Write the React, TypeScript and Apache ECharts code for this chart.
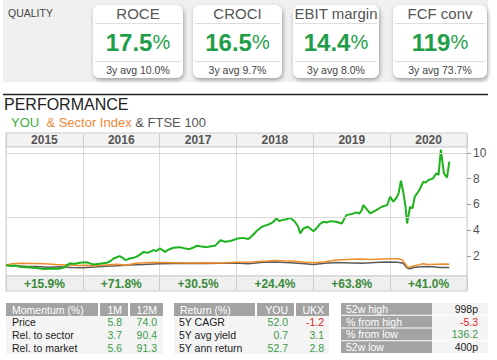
import React, { useEffect, useRef } from 'react';
import * as echarts from 'echarts';

const FONT = '"Liberation Sans", Arial, Helvetica, sans-serif';

// ---- Quality cards ----
const qualityTitles = ['ROCE', 'CROCI', 'EBIT margin', 'FCF conv'];
const qualityValues = ['17.5', '16.5', '14.4', '119'];
const qualityAvg = ['10.0%', '9.7%', '8.0%', '73.7%'];

// ---- Performance chart ----
const years = ['2015', '2016', '2017', '2018', '2019', '2020'];
const yearReturns = ['+15.9%', '+71.8%', '+30.5%', '+24.4%', '+63.8%', '+41.0%'];
const yTicks = [2, 4, 6, 8, 10];
const gridValues = [5, 10];

const youSeries: number[][] = [
  [2015.0, 1.28], [2015.06, 1.22], [2015.12, 1.25], [2015.18, 1.15], [2015.26, 1.12], [2015.36, 1.07],
  [2015.42, 1.03], [2015.49, 0.97], [2015.55, 1.0], [2015.62, 1.02], [2015.68, 0.99], [2015.75, 1.07],
  [2015.8, 1.3], [2015.83, 1.41], [2015.9, 1.38], [2015.96, 1.46], [2016.05, 1.5], [2016.1, 1.4],
  [2016.14, 1.33], [2016.22, 1.38], [2016.31, 1.46], [2016.36, 1.6], [2016.4, 1.8], [2016.48, 1.98],
  [2016.52, 1.85], [2016.55, 1.67], [2016.6, 1.78], [2016.66, 1.85], [2016.72, 2.0], [2016.79, 2.31],
  [2016.85, 2.25], [2016.92, 2.45], [2016.96, 2.38], [2017.0, 2.58], [2017.04, 2.45], [2017.07, 2.31],
  [2017.12, 2.5], [2017.18, 2.63], [2017.26, 2.68], [2017.32, 2.6], [2017.39, 2.52], [2017.44, 2.65],
  [2017.48, 2.78], [2017.55, 2.72], [2017.61, 2.68], [2017.67, 2.75], [2017.72, 2.78], [2017.79, 3.22],
  [2017.85, 3.1], [2017.92, 3.16], [2017.97, 3.25], [2018.02, 3.36], [2018.09, 3.4], [2018.15, 3.3],
  [2018.2, 3.55], [2018.26, 3.92], [2018.33, 4.26], [2018.39, 4.39], [2018.44, 4.5], [2018.48, 4.65],
  [2018.52, 4.91], [2018.56, 4.7], [2018.59, 4.78], [2018.65, 4.85], [2018.7, 4.96], [2018.76, 4.65],
  [2018.8, 4.3], [2018.83, 3.75], [2018.87, 4.13], [2018.93, 4.26], [2019.0, 3.92], [2019.04, 4.13],
  [2019.09, 4.5], [2019.13, 4.65], [2019.18, 4.6], [2019.22, 4.7], [2019.3, 4.65], [2019.37, 4.52],
  [2019.43, 5.17], [2019.5, 5.25], [2019.56, 5.38], [2019.6, 5.3], [2019.63, 5.56], [2019.65, 5.95],
  [2019.7, 5.6], [2019.74, 5.3], [2019.82, 5.56], [2019.89, 5.82], [2019.96, 5.95], [2020.0, 6.6],
  [2020.04, 6.22], [2020.08, 6.5], [2020.11, 6.86], [2020.14, 7.84], [2020.17, 6.99], [2020.2, 5.8],
  [2020.22, 4.52], [2020.26, 5.82], [2020.29, 5.69], [2020.32, 6.6], [2020.38, 7.12], [2020.43, 7.76],
  [2020.46, 7.7], [2020.5, 7.9], [2020.56, 8.03], [2020.6, 8.42], [2020.63, 8.3], [2020.66, 10.26],
  [2020.7, 8.42], [2020.74, 8.08], [2020.77, 9.33],
];

const sectorSeries: number[][] = [
  [2015.0, 1.28], [2015.08, 1.38], [2015.2, 1.42], [2015.35, 1.4], [2015.5, 1.38], [2015.65, 1.33],
  [2015.8, 1.3], [2015.95, 1.25], [2016.05, 1.28], [2016.15, 1.22], [2016.3, 1.3], [2016.45, 1.35],
  [2016.55, 1.28], [2016.7, 1.42], [2016.85, 1.48], [2017.0, 1.48], [2017.2, 1.47], [2017.4, 1.45],
  [2017.6, 1.47], [2017.8, 1.44], [2018.0, 1.5], [2018.2, 1.52], [2018.4, 1.6], [2018.5, 1.65],
  [2018.6, 1.62], [2018.75, 1.58], [2018.9, 1.5], [2019.0, 1.46], [2019.15, 1.55], [2019.3, 1.68],
  [2019.45, 1.72], [2019.6, 1.75], [2019.75, 1.72], [2019.9, 1.76], [2020.0, 1.78], [2020.1, 1.77],
  [2020.15, 1.72], [2020.2, 1.35], [2020.23, 1.1], [2020.28, 1.18], [2020.35, 1.28], [2020.43, 1.38],
  [2020.5, 1.33], [2020.6, 1.35], [2020.7, 1.36], [2020.77, 1.35],
];

const ftseSeries: number[][] = [
  [2015.0, 1.28], [2015.1, 1.24], [2015.25, 1.2], [2015.4, 1.18], [2015.55, 1.12], [2015.7, 1.15],
  [2015.85, 1.1], [2016.0, 1.08], [2016.1, 1.12], [2016.3, 1.2], [2016.45, 1.24], [2016.6, 1.3],
  [2016.8, 1.32], [2017.0, 1.38], [2017.2, 1.41], [2017.4, 1.42], [2017.6, 1.4], [2017.8, 1.42],
  [2018.0, 1.45], [2018.15, 1.38], [2018.35, 1.5], [2018.5, 1.52], [2018.7, 1.47], [2018.85, 1.4],
  [2019.0, 1.33], [2019.15, 1.42], [2019.3, 1.48], [2019.5, 1.45], [2019.65, 1.43], [2019.8, 1.48],
  [2019.95, 1.53], [2020.1, 1.5], [2020.17, 1.42], [2020.22, 1.05], [2020.26, 1.0], [2020.32, 1.12],
  [2020.45, 1.18], [2020.55, 1.15], [2020.65, 1.1], [2020.77, 1.1],
];

// ---- Tables ----
const momentumRows = ['Price', 'Rel. to sector', 'Rel. to market'];
const momentum1M = ['5.8', '3.7', '5.6'];
const momentum12M = ['74.0', '90.4', '91.3'];
const returnRows = ['5Y CAGR', '5Y avg yield', '5Y ann return'];
const returnYou = ['52.0', '0.7', '52.7'];
const returnUkx = ['-1.2', '3.1', '2.8'];
const rangeLabels = ['52w high', '% from high', '% from low', '52w low'];
const rangeValues = ['998p', '-5.3', '136.2', '400p'];

const GREEN = '#3a9a4a';
const RED = '#e02424';
const valColor = (v: string) => (v.endsWith('p') ? '#222' : v.startsWith('-') ? RED : GREEN);

function txt(text: string, x: number, y: number, o: any = {}) {
  return {
    type: 'text',
    silent: true,
    z: 20,
    style: {
      text,
      x,
      y,
      fill: o.fill ?? '#222',
      font: `${o.weight ?? 'normal'} ${o.size ?? 11}px ${FONT}`,
      align: o.align ?? 'left',
      verticalAlign: 'middle',
    },
  };
}
function rect(x: number, y: number, w: number, h: number, fill: string, extra: any = {}) {
  return { type: 'rect', silent: true, z: extra.z ?? 5, shape: { x, y, width: w, height: h, r: extra.r ?? 0 }, style: { fill, ...(extra.style || {}) } };
}
function hline(x1: number, x2: number, y: number, stroke: string, w = 1) {
  return { type: 'line', silent: true, z: 8, shape: { x1, y1: y, x2, y2: y }, style: { stroke, lineWidth: w } };
}

function buildGraphic() {
  const g: any[] = [];
  // Quality panel
  g.push(rect(3, 0, 485, 82, '#f0f0f0', { z: 1 }));
  g.push(txt('QUALITY', 8, 13, { size: 10.5, fill: '#444' }));
  const cardX = [93, 193, 293, 393];
  const cardW = [90, 89, 86, 94];
  qualityTitles.forEach((t, i) => {
    const x = cardX[i];
    const w = cardW[i];
    const cx = x + w / 2;
    g.push(rect(x, 5, w, 73, '#ffffff', {
      r: 7, z: 4,
      style: { shadowBlur: 4, shadowColor: 'rgba(0,0,0,0.35)', shadowOffsetX: 1, shadowOffsetY: 2 },
    }));
    g.push(hline(x + 2, x + w - 2, 23.5, '#dddddd'));
    g.push(hline(x + 2, x + w - 2, 61.5, '#dddddd'));
    g.push(txt(t, cx, 13.5, { size: 15, fill: '#555', align: 'center' }));
    g.push({
      type: 'text', silent: true, z: 20,
      style: {
        text: `{v|${qualityValues[i]}}{p|%}`,
        x: cx, y: 42, align: 'center', verticalAlign: 'middle',
        rich: {
          v: { fontSize: 24, fontWeight: 'bold', fontFamily: FONT, fill: '#1f9e4a' },
          p: { fontSize: 20, fontFamily: FONT, fill: '#1f9e4a' },
        },
      },
    });
    g.push(txt('3y avg ' + qualityAvg[i], cx, 70, { size: 10.5, fill: '#444', align: 'center' }));
  });

  // Performance header
  g.push(hline(3, 488, 94.5, '#222', 1.5));
  g.push(txt('PERFORMANCE', 4, 104, { size: 16, fill: '#222' }));
  g.push({
    type: 'text', silent: true, z: 20,
    style: {
      text: '{a|YOU}{b|  & Sector Index}{c| & FTSE 100}',
      x: 11, y: 122, verticalAlign: 'middle',
      rich: {
        a: { fontSize: 13, fontFamily: FONT, fill: '#3cb043' },
        b: { fontSize: 13, fontFamily: FONT, fill: '#f0883a' },
        c: { fontSize: 13, fontFamily: FONT, fill: '#555' },
      },
    },
  });

  // Tables
  const HEAD = '#a3a3a3';
  const BODY = '#f4f4f4';
  const top = 303;
  const hh = 13;
  const rh = 12.7;
  // Momentum
  g.push(rect(6, top, 92, hh, HEAD));
  g.push(rect(100, top, 28, hh, HEAD));
  g.push(rect(130, top, 33, hh, HEAD));
  g.push(rect(6, top + hh, 157, rh * 3, BODY));
  g.push(txt('Momentum (%)', 12, top + hh / 2, { size: 10.5, fill: '#fff' }));
  g.push(txt('1M', 122, top + hh / 2, { size: 10.5, fill: '#fff', align: 'right' }));
  g.push(txt('12M', 157, top + hh / 2, { size: 10.5, fill: '#fff', align: 'right' }));
  momentumRows.forEach((r, i) => {
    const y = top + hh + rh * i + rh / 2;
    g.push(txt(r, 12, y, { size: 10.5, fill: '#222' }));
    g.push(txt(momentum1M[i], 122, y, { size: 10.5, fill: valColor(momentum1M[i]), align: 'right' }));
    g.push(txt(momentum12M[i], 157, y, { size: 10.5, fill: valColor(momentum12M[i]), align: 'right' }));
  });
  // Return
  g.push(rect(174, top, 81, hh, HEAD));
  g.push(rect(257, top, 37, hh, HEAD));
  g.push(rect(296, top, 33, hh, HEAD));
  g.push(rect(174, top + hh, 155, rh * 3, BODY));
  g.push(txt('Return (%)', 180, top + hh / 2, { size: 10.5, fill: '#fff' }));
  g.push(txt('YOU', 288, top + hh / 2, { size: 10.5, fill: '#fff', align: 'right' }));
  g.push(txt('UKX', 324, top + hh / 2, { size: 10.5, fill: '#fff', align: 'right' }));
  returnRows.forEach((r, i) => {
    const y = top + hh + rh * i + rh / 2;
    g.push(txt(r, 179, y, { size: 10.5, fill: '#222' }));
    g.push(txt(returnYou[i], 288, y, { size: 10.5, fill: valColor(returnYou[i]), align: 'right' }));
    g.push(txt(returnUkx[i], 324, y, { size: 10.5, fill: valColor(returnUkx[i]), align: 'right' }));
  });
  // 52w range
  const rr = 12.75;
  rangeLabels.forEach((r, i) => {
    const y0 = top + rr * i;
    g.push(rect(341, y0, 91, rr - 1, HEAD));
    g.push(rect(432, y0, 56, rr - 1, BODY));
    g.push(txt(r, 346, y0 + rr / 2 - 0.5, { size: 10.5, fill: '#fff' }));
    g.push(txt(rangeValues[i], 478, y0 + rr / 2 - 0.5, { size: 10.5, fill: valColor(rangeValues[i]), align: 'right' }));
  });
  return g;
}

function buildOption(): any {
  const line = (data: number[][], color: string, width: number, z: number, extra: any = {}) => ({
    type: 'line',
    xAxisIndex: 1,
    yAxisIndex: 1,
    data,
    showSymbol: false,
    symbol: 'none',
    z,
    lineStyle: { color, width },
    itemStyle: { color },
    silent: true,
    ...extra,
  });
  return {
    animation: false,
    backgroundColor: '#ffffff',
    textStyle: { fontFamily: FONT },
    grid: [
      { left: 6, top: 133, width: 461, height: 14, show: true, backgroundColor: '#f2f2f2', borderColor: '#cccccc', borderWidth: 1 },
      { left: 6, top: 147, width: 461, height: 129, show: true, backgroundColor: '#ffffff', borderColor: '#cccccc', borderWidth: 1 },
      { left: 6, top: 276, width: 461, height: 15, show: true, backgroundColor: '#efefef', borderColor: '#cccccc', borderWidth: 1 },
    ],
    xAxis: [
      {
        gridIndex: 0, type: 'category', data: years, boundaryGap: true, position: 'bottom',
        axisLine: { show: false }, axisTick: { show: false },
        splitLine: { show: true, interval: 0, lineStyle: { color: '#cccccc' } },
        axisLabel: { inside: true, margin: 1, interval: 0, color: '#555', fontWeight: 'bold', fontSize: 12, fontFamily: FONT },
      },
      {
        gridIndex: 1, type: 'value', min: 2015, max: 2021, interval: 1,
        axisLine: { show: false }, axisTick: { show: false }, axisLabel: { show: false },
        splitLine: { show: true, lineStyle: { color: '#d9d9d9' } },
      },
      {
        gridIndex: 2, type: 'category', data: yearReturns, boundaryGap: true, position: 'bottom',
        axisLine: { show: false }, axisTick: { show: false },
        splitLine: { show: true, interval: 0, lineStyle: { color: '#cccccc' } },
        axisLabel: { inside: true, margin: 1, interval: 0, color: '#3a8a3a', fontWeight: 'bold', fontSize: 12, fontFamily: FONT },
      },
    ],
    yAxis: [
      { gridIndex: 0, type: 'value', show: false },
      {
        gridIndex: 1, type: 'value', position: 'right', min: 0.435, max: 10.467,
        splitLine: { show: false }, axisLine: { show: false },
        axisTick: { show: true, length: 4, lineStyle: { color: '#999' }, customValues: yTicks },
        axisLabel: { color: '#555', fontSize: 12, margin: 6, fontFamily: FONT, customValues: yTicks },
      },
      { gridIndex: 2, type: 'value', show: false },
    ],
    series: [
      line(ftseSeries, '#5a5a5a', 1.5, 2, {
        markLine: {
          silent: true,
          symbol: ['none', 'none'],
          label: { show: false },
          lineStyle: { color: '#d9d9d9', type: 'solid', width: 1 },
          data: gridValues.map((v) => ({ yAxis: v })),
        },
      }),
      line(sectorSeries, '#f08c2a', 1.5, 3),
      line(youSeries, '#1cb31c', 2, 4),
    ],
    graphic: buildGraphic(),
  };
}

export default function App() {
  const ref = useRef<HTMLDivElement>(null);
  useEffect(() => {
    const chart = echarts.init(ref.current!, null, { renderer: 'svg' });
    chart.setOption(buildOption());
    return () => chart.dispose();
  }, []);
  return (
    <div
      ref={ref}
      style={{ position: 'fixed', left: 0, top: 0, width: 497, height: 360, background: '#fff' }}
    />
  );
}
